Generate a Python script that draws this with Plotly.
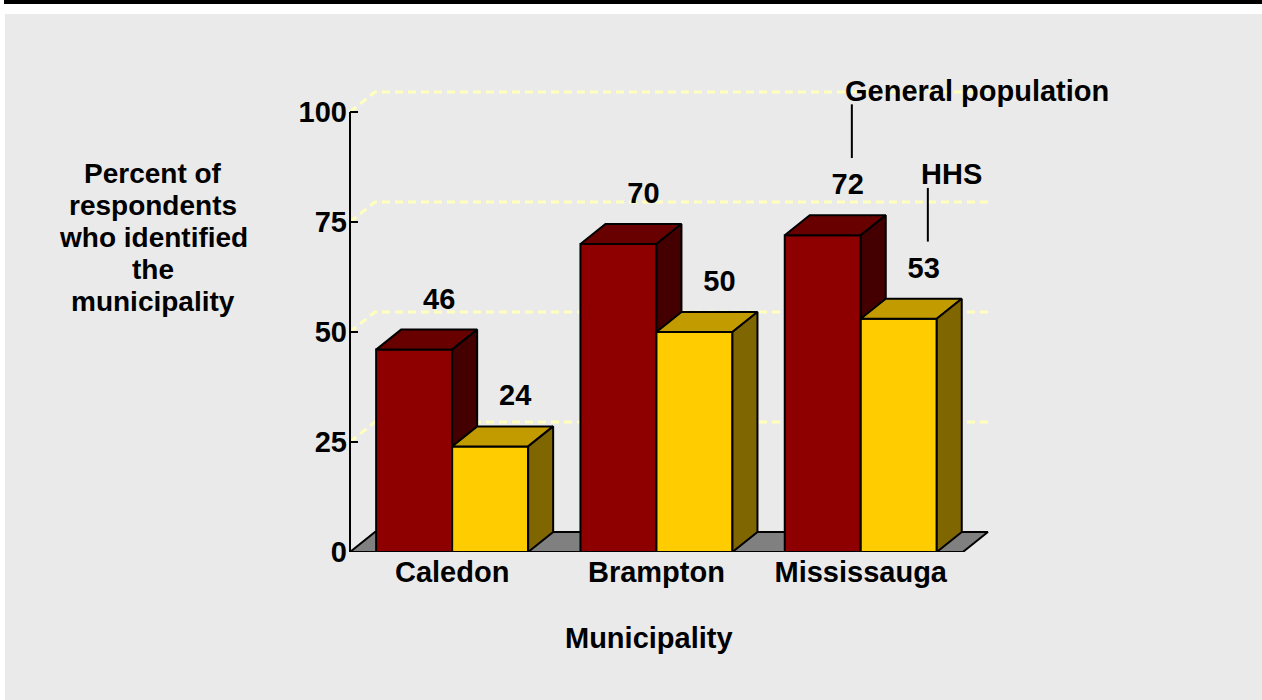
import plotly.graph_objects as go

# ---------------- data ----------------
categories = ["Caledon", "Brampton", "Mississauga"]
series_names = ["General population", "HHS"]
general_population = [46, 70, 72]
hhs = [24, 50, 53]
y_ticks = [0, 25, 50, 75, 100]
x_title = "Municipality"
y_title_lines = ["Percent of", "respondents", "who identified", "the", "municipality"]

# ---------------- geometry / style ----------------
W, H = 1262, 700
L, R, T, B = 350, 262, 80, 148          # plot-area margins (px)
PX_X = 204.3                              # px per category unit
PX_Y = 4.4                                # px per percent
x_range = [-0.5, -0.5 + (W - L - R) / PX_X]
y_range = [0, (H - T - B) / PX_Y]
bar_w = 0.372
dx = 25 / PX_X                            # 3-D depth (x units)
dy = 20 / PX_Y                            # 3-D depth (y units)
FONT = "Liberation Sans, Arial, Helvetica, sans-serif"
FS = 29

colors = {
    "General population": dict(front="#8E0000", top="#690000", side="#440000"),
    "HHS": dict(front="#FFCC00", top="#C29B00", side="#806600"),
}


def fx(px):
    return (px - L) / (W - L - R)


def fy(py):
    return (H - B - py) / (H - T - B)


def poly_trace(polys, fill):
    xs, ys = [], []
    for p in polys:
        for (a, b) in p + [p[0]]:
            xs.append(a)
            ys.append(b)
        xs.append(None)
        ys.append(None)
    return go.Scatter(x=xs, y=ys, mode="lines", fill="toself", fillcolor=fill,
                      line=dict(color="black", width=2), hoverinfo="skip",
                      showlegend=False)


fig = go.Figure()

# dashed back-plane gridlines
gx, gy = [], []
for v in y_ticks[1:]:
    gx += [x_range[0], x_range[0] + dx, len(categories) - 0.5 + dx, None]
    gy += [v, v + dy, v + dy, None]
fig.add_trace(go.Scatter(x=gx, y=gy, mode="lines", hoverinfo="skip", showlegend=False,
                         line=dict(color="#FFFFBE", width=3, dash="8px,5px")))

# floor
x_lo, x_hi = -0.5, len(categories) - 0.5
fig.add_trace(poly_trace([[(x_lo, 0), (x_hi, 0), (x_hi + dx, dy), (x_lo + dx, dy)]], "#808080"))

# bars
for si, (name, vals) in enumerate(zip(series_names, [general_population, hhs])):
    fronts, tops, sides = [], [], []
    for ci, v in enumerate(vals):
        x0 = ci - bar_w + si * bar_w
        x1 = x0 + bar_w
        fronts.append([(x0, 0), (x1, 0), (x1, v), (x0, v)])
        tops.append([(x0, v), (x1, v), (x1 + dx, v + dy), (x0 + dx, v + dy)])
        sides.append([(x1, 0), (x1 + dx, dy), (x1 + dx, v + dy), (x1, v)])
    c = colors[name]
    fig.add_trace(poly_trace(fronts, c["front"]))
    fig.add_trace(poly_trace(tops, c["top"]))
    fig.add_trace(poly_trace(sides, c["side"]))
    # value labels
    lx = [ci - bar_w / 2 + si * bar_w + dx for ci in range(len(vals))]
    ly = [v + dy + 6.4 for v in vals]
    fig.add_trace(go.Scatter(x=lx, y=ly, mode="text", text=[str(v) for v in vals],
                             textposition="middle center", cliponaxis=False,
                             textfont=dict(family=FONT, size=FS, color="black", weight="bold"),
                             hoverinfo="skip", showlegend=False))

# series labels with leader lines (at last category)
shapes = []
annotations = []
last = len(categories) - 1
for si, (name, vals) in enumerate(zip(series_names, [general_population, hhs])):
    v = vals[last]
    top = v + dy
    lx = last - bar_w / 2 + si * bar_w + dx + 0.02
    shapes.append(dict(type="line", xref="x", yref="y", x0=lx, x1=lx,
                       y0=top + 13, y1=top + 25.2, line=dict(color="black", width=2)))
    annotations.append(dict(xref="x", yref="y", x=lx - 0.045, y=top + 28.3, text=name,
                            xanchor="left", yanchor="middle", showarrow=False,
                            font=dict(family=FONT, size=FS, color="black", weight="bold")))

# y axis line (x in paper coords so it is not clipped at the plot edge)
shapes.append(dict(type="line", xref="paper", yref="y", x0=0, x1=0,
                   y0=0, y1=max(y_ticks), line=dict(color="black", width=2)))

# page decorations
shapes += [
    dict(type="rect", xref="paper", yref="paper", x0=fx(0), x1=fx(W), y0=fy(14), y1=fy(0),
         fillcolor="white", line=dict(width=0), layer="below"),
    dict(type="rect", xref="paper", yref="paper", x0=fx(0), x1=fx(5), y0=fy(H), y1=fy(0),
         fillcolor="white", line=dict(width=0), layer="below"),
    dict(type="rect", xref="paper", yref="paper", x0=fx(4), x1=fx(W), y0=fy(4), y1=fy(0),
         fillcolor="black", line=dict(width=0), layer="below"),
]

# y title, one line each (32 px line pitch)
for i, line in enumerate(y_title_lines):
    annotations.append(dict(xref="paper", yref="paper", x=fx(153), y=fy(173 + 32 * i),
                            text=line, showarrow=False, xanchor="center", yanchor="middle",
                            font=dict(family=FONT, size=28, color="black", weight="bold")))

annotations.append(dict(xref="paper", yref="paper", x=fx(648.5), y=fy(637.5), text=x_title,
                        showarrow=False, xanchor="center", yanchor="middle",
                        font=dict(family=FONT, size=FS, color="black", weight="bold")))

fig.update_layout(
    width=W, height=H, autosize=False,
    margin=dict(l=L, r=R, t=T, b=B, pad=0),
    paper_bgcolor="#EAEAEA", plot_bgcolor="rgba(0,0,0,0)",
    showlegend=False, shapes=shapes, annotations=annotations,
    xaxis=dict(range=x_range, tickmode="array", tickvals=list(range(len(categories))),
               ticktext=categories, showgrid=False, zeroline=False, showline=False,
               ticks="", tickfont=dict(family=FONT, size=FS, color="black", weight="bold"),
               fixedrange=True),
    yaxis=dict(range=y_range, tickmode="array", tickvals=y_ticks,
               ticktext=[str(t) for t in y_ticks], showgrid=False, zeroline=False,
               showline=False, ticks="inside", ticklen=8, tickwidth=2, tickcolor="black",
               ticklabelstandoff=2,
               tickfont=dict(family=FONT, size=FS, color="black", weight="bold"),
               fixedrange=True),
)

fig.write_html("out.html")
